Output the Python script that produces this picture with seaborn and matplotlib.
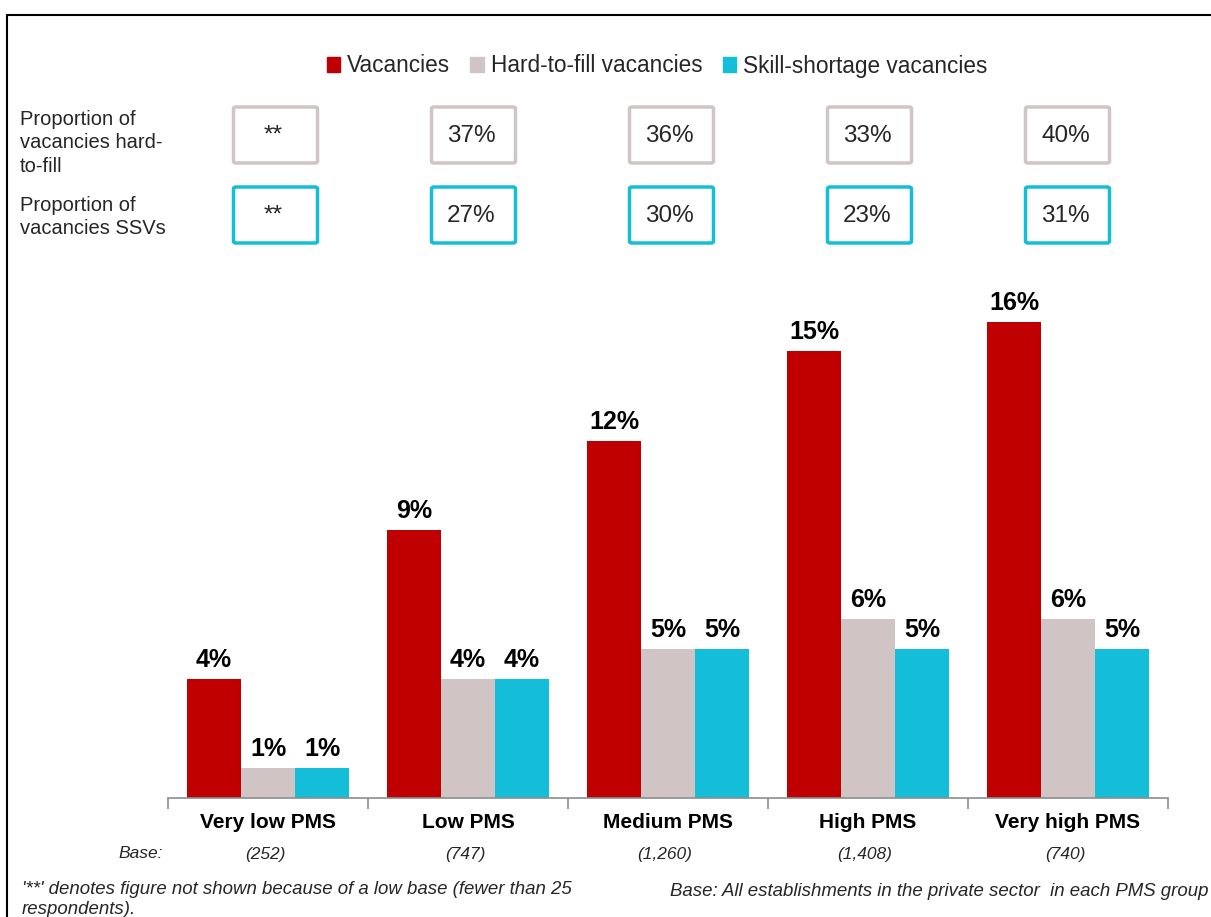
import matplotlib
matplotlib.use("Agg")
import matplotlib.pyplot as plt
import matplotlib.patches as mpatches
import seaborn as sns
import pandas as pd

categories = ["Very low PMS", "Low PMS", "Medium PMS", "High PMS", "Very high PMS"]
series = ["Vacancies", "Hard-to-fill vacancies", "Skill-shortage vacancies"]
vacancies = [4, 9, 12, 15, 16]
hard_to_fill = [1, 4, 5, 6, 6]
skill_shortage = [1, 4, 5, 5, 5]
bases = ["(252)", "(747)", "(1,260)", "(1,408)", "(740)"]
prop_htf = ["**", "37%", "36%", "33%", "40%"]
prop_ssv = ["**", "27%", "30%", "23%", "31%"]

colors = ["#C00000", "#D0C4C4", "#14BED8"]

rows = []
for s, vals in zip(series, [vacancies, hard_to_fill, skill_shortage]):
    for c, v in zip(categories, vals):
        rows.append({"cat": c, "series": s, "value": v})
df = pd.DataFrame(rows)

sns.set_theme(style="white")
plt.rcParams["font.family"] = ["Liberation Sans", "DejaVu Sans"]

W, H = 1211, 917
fig = plt.figure(figsize=(W / 100, H / 100), dpi=100)

def fx(px):
    return px / W

def fy(py):
    return 1 - py / H

ax = fig.add_axes([fx(168), fy(798), fx(1000), (798 - 262) / H])
sns.barplot(data=df, x="cat", y="value", hue="series", palette=colors,
            width=0.81, ax=ax, legend=False, saturation=1, linewidth=0)
ax.set_xlim(-0.5, 4.5)
ax.set_ylim(0, 18)
for side in ["top", "right", "left"]:
    ax.spines[side].set_visible(False)
ax.spines["bottom"].set_color("#8C8C8C")
ax.spines["bottom"].set_linewidth(1.2)
ax.set_yticks([])
ax.set_xlabel("")
ax.set_ylabel("")
ax.set_xticks(range(5))
ax.set_xticklabels(categories, fontsize=15, fontweight="bold", color="black")
ax.tick_params(axis="x", which="major", length=0, pad=11)
ax.set_xticks([-0.5, 0.5, 1.5, 2.5, 3.5, 4.5], minor=True)
ax.tick_params(axis="x", which="minor", length=8, color="#8C8C8C", width=1.2, direction="out")
ax.tick_params(axis="x", which="minor", bottom=True)

for cont in ax.containers:
    ax.bar_label(cont, labels=[f"{v:.0f}%" for v in cont.datavalues],
                 fontsize=18, fontweight="bold", padding=5, color="black")

# Base row
fig.text(fx(163), fy(854), "Base:", ha="right", va="center", fontsize=12.5, style="italic")
for i, b in enumerate(bases):
    fig.text(fx(268 + 200 * i - 3), fy(854), b, ha="center", va="center",
             fontsize=12.5, style="italic")

# Footnotes
fig.text(fx(22), fy(881), "'**' denotes figure not shown because of a low base (fewer than 25\nrespondents).",
         ha="left", va="top", fontsize=13.4, style="italic", linespacing=1.2)
fig.text(fx(1208), fy(891), "Base: All establishments in the private sector  in each PMS group",
         ha="right", va="center", fontsize=13.4, style="italic")

# Legend
handles = [mpatches.Patch(color=c, label=s) for c, s in zip(colors, series)]
fig.legend(handles=handles, loc="center", bbox_to_anchor=(fx(657), fy(66)), ncol=3,
           frameon=False, fontsize=16.3, handlelength=0.6, handleheight=0.6,
           handletextpad=0.3, columnspacing=0.9)

# Row labels
fig.text(fx(20), fy(110), "Proportion of\nvacancies hard-\nto-fill", ha="left", va="top",
         fontsize=14.5, linespacing=1.3)
fig.text(fx(20), fy(196), "Proportion of\nvacancies SSVs", ha="left", va="top",
         fontsize=14.5, linespacing=1.3)

# Boxes
for i in range(5):
    cx = 275.5 + 198 * i
    for row, (vals, col, top) in enumerate([(prop_htf, "#D0C4C4", 107), (prop_ssv, "#14BED8", 187)]):
        rect = mpatches.FancyBboxPatch((fx(cx - 42), fy(top + 56)), fx(84), 56 / H,
                                       boxstyle="round,pad=0,rounding_size=0.002",
                                       transform=fig.transFigure, facecolor="white",
                                       edgecolor=col, linewidth=2.5)
        fig.patches.append(rect)
        fig.text(fx(cx - 2), fy(top + 29), vals[i], ha="center", va="center", fontsize=17.5)

# Outer border
border = mpatches.Rectangle((fx(7), fy(930)), fx(1220), (930 - 15) / H, transform=fig.transFigure,
                            fill=False, edgecolor="black", linewidth=1.5)
fig.patches.append(border)

fig.savefig("out.png", dpi=100)
